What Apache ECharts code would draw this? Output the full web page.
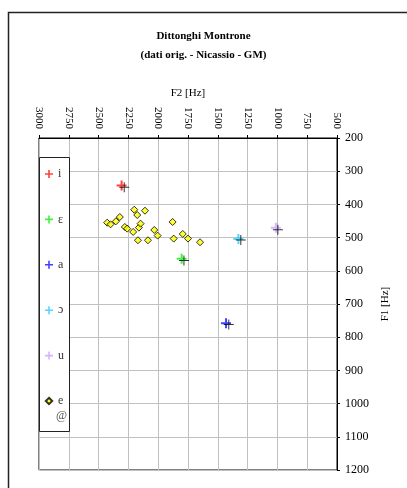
<!DOCTYPE html>
<html lang="it">
<head>
    <meta charset="UTF-8">
    <title>Dittonghi Montrone</title>
    <script src="https://cdn.jsdelivr.net/npm/echarts@6/dist/echarts.min.js"></script>
    <style>
        html, body { margin: 0; padding: 0; background: #fff; }
        #main { width: 407px; height: 488px; }
    </style>
</head>
<body>
    <div id="main"></div>
    <script type="text/javascript">
        // vocali (croci colorate) e valori di riferimento (croci nere)
        const vowels = ['i', 'ε', 'a', 'ɔ', 'u'];
        const vowelColors = ['#ff0000', '#00ee00', '#0000ff', '#1ec8ff', '#cc99ff'];
        const vowelF2 = [2307, 1803, 1431, 1327, 1013];
        const vowelF1 = [343, 564, 758, 504, 470];
        const refF2 = [2285, 1784, 1408, 1307, 996];
        const refF1 = [348, 569, 762, 507, 476];

        // dittonghi (rombi gialli)
        const eF2 = [2428, 2400, 2355, 2322, 2201, 2176, 2111, 2280, 2260, 2210, 2162,
                     2148, 2170, 2086, 2033, 2005, 1879, 1870, 1794, 1750, 1649];
        const eF1 = [455, 460, 451, 438, 416, 432, 419, 468, 473, 483, 470,
                     458, 508, 508, 477, 494, 453, 503, 489, 503, 514];

        const font = 'Liberation Serif';
        const plusThin = 'path://M4.5,0H5.5V4.5H10V5.5H5.5V10H4.5V5.5H0V4.5H4.5Z';
        const plusThick = 'path://M4,0H6V4H10V6H6V10H4V6H0V4H4Z';
        // rombo per la legenda (box 0..10 tenuto da segmenti nulli)
        const smallDiamond = 'path://M0,0L0,0M10,10L10,10M5,1L9,5L5,9L1,5Z';

        const series = [];
        vowels.forEach(function (v, i) {
            series.push({
                name: v,
                type: 'scatter',
                symbol: plusThick,
                symbolSize: 10,
                itemStyle: { color: vowelColors[i], opacity: 0.75 },
                data: [[vowelF2[i], vowelF1[i]]],
                z: 2
            });
        });
        series.push({
            name: 'e',
            type: 'scatter',
            symbol: 'diamond',
            symbolSize: 7,
            itemStyle: { color: '#ffff00', borderColor: '#000', borderWidth: 1 },
            data: eF2.map(function (x, k) { return [x, eF1[k]]; }),
            z: 2
        });
        series.push({
            name: 'rif',
            type: 'scatter',
            symbol: plusThin,
            symbolSize: 10,
            itemStyle: { color: '#000' },
            data: refF2.map(function (x, k) { return [x, refF1[k]]; }),
            z: 2
        });

        const legendData = vowels.map(function (v) { return { name: v }; });
        legendData.push({ name: 'e', icon: smallDiamond });

        const chart = echarts.init(document.getElementById('main'));
        const option = {
            backgroundColor: '#fff',
            animation: false,
            title: {
                text: 'Dittonghi Montrone\n(dati orig. - Nicassio - GM)',
                left: 'center',
                top: 26.5,
                padding: 0,
                textStyle: { fontFamily: font, fontSize: 11, fontWeight: 'bold', color: '#000', lineHeight: 19 }
            },
            grid: {
                left: 39,
                right: 70,
                top: 138,
                bottom: 18,
                show: true,
                borderColor: '#000',
                borderWidth: 1
            },
            legend: {
                orient: 'vertical',
                left: 39,
                top: 158,
                padding: [10, 4, 27, 5],
                itemWidth: 8,
                itemHeight: 10,
                itemGap: 33.4,
                textStyle: { fontFamily: font, fontSize: 12, color: '#333', lineHeight: 10 },
                data: legendData,
                z: 4
            },
            xAxis: {
                type: 'value',
                position: 'top',
                inverse: true,
                min: 500,
                max: 3000,
                interval: 250,
                name: 'F2 [Hz]',
                nameLocation: 'middle',
                nameGap: 37,
                nameTextStyle: { fontFamily: font, fontSize: 11, color: '#000' },
                axisLine: { show: true, lineStyle: { color: '#000' } },
                axisTick: { show: true, length: 3, lineStyle: { color: '#000' } },
                axisLabel: {
                    rotate: 90, margin: 9, fontFamily: font, fontSize: 11, color: '#000',
                    formatter: function (v) { return String(v); }
                },
                splitLine: { show: true, lineStyle: { color: '#c0c0c0' } }
            },
            yAxis: {
                type: 'value',
                position: 'right',
                inverse: true,
                min: 200,
                max: 1200,
                interval: 100,
                name: 'F1 [Hz]',
                nameLocation: 'middle',
                nameRotate: 90,
                nameGap: 32,
                nameTextStyle: { fontFamily: font, fontSize: 11, color: '#000' },
                axisLine: { show: true, lineStyle: { color: '#000' } },
                axisTick: { show: true, length: 3, lineStyle: { color: '#000' } },
                axisLabel: {
                    margin: 8, fontFamily: font, fontSize: 12, color: '#000',
                    formatter: function (v) { return String(v); }
                },
                splitLine: { show: true, lineStyle: { color: '#c0c0c0' } }
            },
            graphic: [
                {
                    type: 'rect',
                    shape: { x: 8.5, y: 12.5, width: 500, height: 500 },
                    style: { fill: 'none', stroke: '#222', lineWidth: 1.5 },
                    z: 1
                },
                {
                    type: 'rect',
                    shape: { x: 39.5, y: 157.5, width: 30, height: 274 },
                    style: { fill: '#fff', stroke: '#222', lineWidth: 1 },
                    z: 3
                },
                {
                    type: 'text',
                    left: 56,
                    top: 410,
                    style: { text: '@', fontFamily: font, fontSize: 12, fill: '#555' },
                    z: 4
                }
            ],
            series: series
        };
        chart.setOption(option);
    </script>
</body>
</html>
